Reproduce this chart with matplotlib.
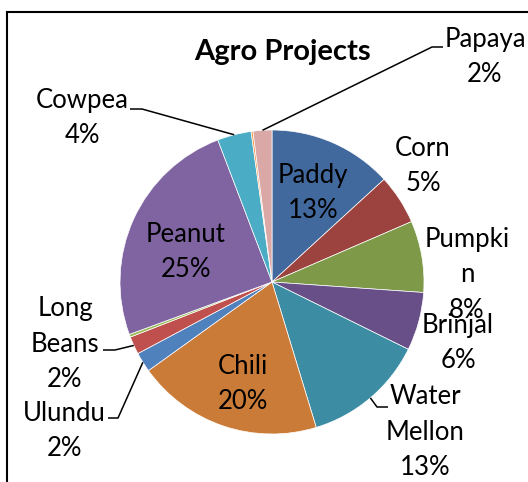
import matplotlib
matplotlib.use("Agg")
import matplotlib.pyplot as plt
import numpy as np

# Agro project shares (percent); two unlabelled slivers sit between labelled slices
names = ["Paddy", "Corn", "Pumpki\nn", "Brinjal", "Water\nMellon", "Chili",
         "Ulundu", "Long\nBeans", "", "Peanut", "Cowpea", "", "Papaya"]
shares = [13.2, 5.3, 7.6, 6.2, 13.0, 19.8, 2.1, 1.9, 0.3, 24.8, 3.6, 0.2, 2.0]
colors = ["#41699D", "#9C423F", "#7E9A48", "#684F87", "#3C8DA4", "#CB7B38",
          "#4F81BD", "#C0504D", "#9BBB59", "#8064A2", "#4BACC6", "#F79646",
          "#D9A8A7"]

W, H = 528, 482
CX, CY, R = 272, 282, 152   # pie centre / radius in pixels (y from top)


def flip(y):
    return H - y


# label centres in pixels
label_pos = {
    "Paddy": (313, 193), "Corn": (423, 166), "Pumpki\nn": (467, 275),
    "Brinjal": (458, 343), "Water\nMellon": (425, 432), "Chili": (243, 384),
    "Ulundu": (64, 431), "Long\nBeans": (65, 344), "Peanut": (186, 252),
    "Cowpea": (82, 118), "Papaya": (485, 57),
}
# leader lines: elbow point then end point next to the text
leaders = {
    "Papaya": [(432, 47), (443, 47)],
    "Cowpea": [(142, 109), (130, 109)],
    "Long\nBeans": [(115, 350), (103, 350)],
    "Ulundu": [(118, 418), (108, 418)],
    "Water\nMellon": [(377, 407), (388, 407)],
}

fig = plt.figure(figsize=(W / 100, H / 100), dpi=100)
ax = fig.add_axes([0, 0, 1, 1])

wedges, _ = ax.pie(shares, colors=colors, startangle=90, counterclock=False,
                   center=(CX, flip(CY)), radius=R,
                   wedgeprops=dict(edgecolor="white", linewidth=0.5))
ax.set_xlim(0, W)
ax.set_ylim(0, H)
ax.set_aspect("equal")
ax.axis("off")

total = sum(shares)
font = ["Lato", "DejaVu Sans"]
for name, val, w in zip(names, shares, wedges):
    if not name:
        continue
    pct = val / total * 100
    x, y = label_pos[name]
    ax.text(x, flip(y), f"{name}\n{pct:.0f}%", ha="center", va="center",
            fontsize=18.5, family=font, linespacing=1.52, color="black")
    if name in leaders:
        mid = np.deg2rad((w.theta1 + w.theta2) / 2)
        pts = [(CX + R * np.cos(mid), CY - R * np.sin(mid))] + leaders[name]
        xs = [p[0] for p in pts]
        ys = [flip(p[1]) for p in pts]
        ax.plot(xs, ys, color="black", lw=1.1, solid_capstyle="butt")

ax.text(282, flip(52), "Agro Projects", ha="center", va="center",
        fontsize=21, fontweight="bold", family=font)

# chart frame (left and top edges)
ax.plot([7, 7, W], [0, flip(12), flip(12)], color="black", lw=1.5,
        solid_joinstyle="miter")

fig.savefig("out.png", dpi=100)
